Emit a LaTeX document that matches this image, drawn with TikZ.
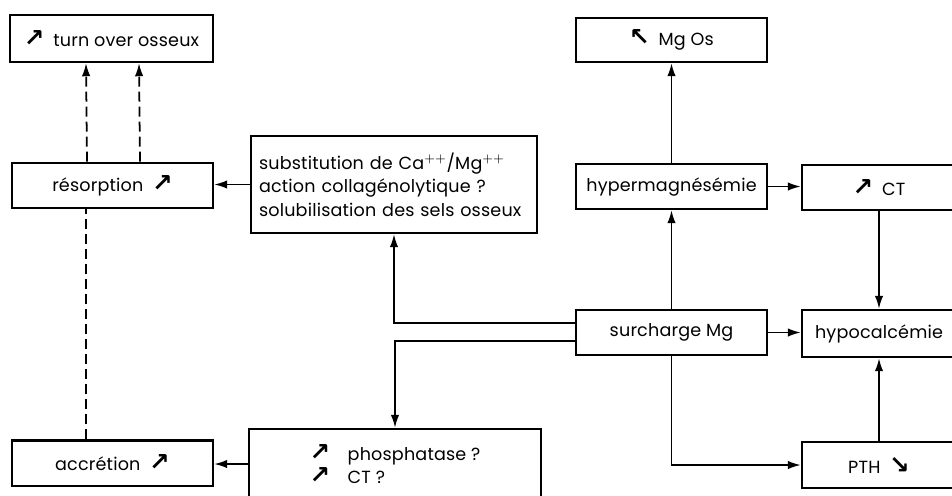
\documentclass[tikz,border=0pt]{standalone}
\usepackage{fontspec}
\setmainfont{Poppins}[LetterSpace=1]
\newfontfamily\arrowfont{DejaVu Sans}
\newcommand{\arrNE}{{\arrowfont\bfseries\fontsize{14}{14}\selectfont ↗}}
\newcommand{\arrNW}{{\arrowfont\bfseries\fontsize{14}{14}\selectfont ↖}}
\newcommand{\arrSE}{{\arrowfont\bfseries\fontsize{14}{14}\selectfont ↘}}
\usetikzlibrary{arrows.meta,positioning}

\begin{document}
\begin{tikzpicture}[x=0.02cm, y=-0.02cm,
    font=\fontsize{10}{13.3}\selectfont,
    box/.style={
        draw,
        line width=1.4pt,
        align=center,
        inner sep=0pt
    },
    leftbox/.style={box, minimum width=4.02cm, minimum height=0.91cm},
    midbox/.style={box, minimum width=3.82cm, minimum height=0.9cm},
    rightbox/.style={box, minimum width=3.08cm, minimum height=0.92cm},
    link/.style={line width=1pt},
    dashlink/.style={link, dash pattern=on 0.2cm off 0.1cm},
    >={Latex[length=2.6mm, width=1.7mm]}
]
\useasboundingbox (0,0) rectangle (952,495);
\node[leftbox, minimum width=4.06cm, minimum height=0.94cm] (turn) at (111.5,38.5) {\arrNE\enspace turn over osseux};
\node[leftbox] (resorp) at (112.5,185.5) {résorption\enspace\arrNE};
\node[leftbox] (accr) at (112.5,463) {accrétion\enspace\arrNE};
\node[box, minimum width=5.72cm, minimum height=1.94cm, text width=5.4cm, align=left] (subst) at (394,184.5)
    {substitution de Ca$^{++}$/Mg$^{++}$\\ action collagénolytique ?\\ solubilisation des sels osseux};
\node[box, minimum width=5.84cm, minimum height=1.4cm, align=left] (phos) at (395,464)
    {\arrNE\quad phosphatase ?\\ \arrNE\quad CT ?};
\node[midbox, minimum height=0.88cm] (mgos) at (671.5,40) {\arrNW\enspace Mg Os};
\node[midbox] (hyper) at (671.5,186.5) {hypermagnésémie};
\node[midbox] (surch) at (671.5,332.5) {surcharge Mg};
\node[rightbox, minimum height=0.9cm] (ct) at (879,187.5) {\arrNE\enspace CT};
\node[rightbox, minimum height=0.94cm] (hypo) at (879,333.5) {hypocalcémie};
\node[rightbox] (pth) at (879,465) {PTH\enspace\arrSE};

\draw[link, ->] (subst.west) -- (subst.west -| resorp.east);
\draw[link, ->] (phos.west) -- (phos.west -| accr.east);
\draw[dashlink] ([xshift=-0.53cm]accr.north) -- ([xshift=-0.53cm]resorp.south);
\draw[dashlink, ->] ([xshift=-0.51cm]resorp.north) -- ([xshift=-0.51cm]turn.south);
\draw[dashlink, ->] ([xshift=0.55cm]resorp.north) -- ([xshift=0.55cm]turn.south);
\draw[link, ->] ([yshift=0.19cm]surch.west) -| (subst.south);
\draw[link, ->] ([yshift=-0.17cm]surch.west) -| (phos.north);
\draw[link, ->] (surch.north) -- (hyper.south);
\draw[link, ->] (hyper.north) -- (mgos.south);
\draw[link, ->] (hyper.east) -- (hyper.east -| ct.west);
\draw[link, ->] (ct.south) -- (hypo.north);
\draw[link, ->] (surch.east) -- (surch.east -| hypo.west);
\draw[link, ->] (surch.south) |- (pth.west);
\draw[link, ->] (pth.north) -- (hypo.south);
\end{tikzpicture}
\end{document}
